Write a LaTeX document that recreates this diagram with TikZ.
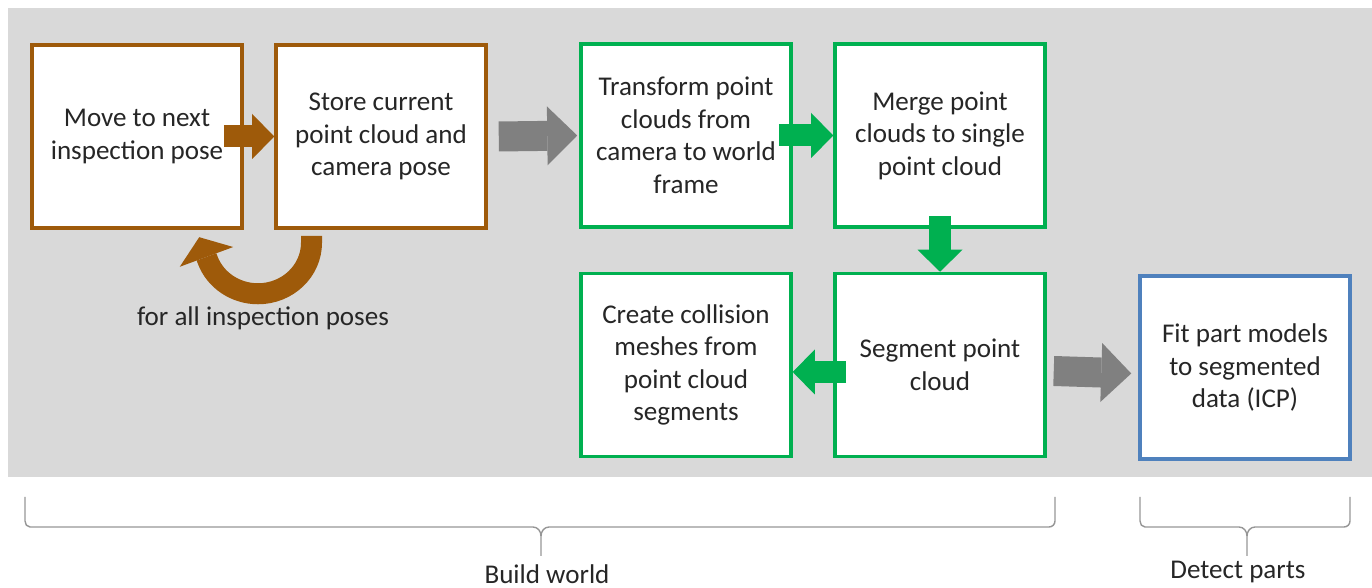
\documentclass[tikz,border=0pt]{standalone}
\usepackage{fontspec}
\setmainfont{Carlito}
\usetikzlibrary{arrows.meta, calc}
\definecolor{bgc}{RGB}{217,217,217}
\definecolor{brn}{RGB}{158,90,10}
\definecolor{grn}{RGB}{0,176,80}
\definecolor{blu}{RGB}{79,129,189}
\definecolor{arrgray}{RGB}{128,128,128}
\definecolor{brcgray}{RGB}{150,150,150}
\definecolor{txt}{RGB}{38,38,38}
\newcommand{\bfnt}{\fontsize{15.4pt}{18.5pt}\selectfont}
\tikzset{
  box/.style={draw, line width=2pt, fill=white, minimum width=4.2cm, minimum height=3.66cm, inner sep=0pt, align=center, font=\bfnt, text=txt},
  brbox/.style={box, draw=brn},
  grbox/.style={box, draw=grn},
  blbox/.style={box, draw=blu},
  sarr/.style={line width=0.44cm, -{Triangle[length=0.44cm, width=0.90cm, line width=0pt]}},
  garr/.style={arrgray, line width=0.60cm, -{Triangle[length=0.60cm, width=1.18cm, line width=0pt]}},
  carr/.style={line width=0.42cm, -{Triangle[length=0.42cm, width=1.14cm, line width=0pt]}},
  brc/.style={draw=brcgray, line width=0.8pt},
  lbl/.style={font=\bfnt, text=txt, inner sep=0pt}
}
\begin{document}
\begin{tikzpicture}
	\useasboundingbox (0,0) rectangle (27.44,-11.76);
	\fill[bgc] (0.16,-0.16) rectangle (27.44,-9.54);
	% build world: capture the clouds, then process them
	\node[brbox] (move) at (2.74,-2.73) {Move to next\\inspection pose};
	\node[brbox] (store) at (7.62,-2.73) {Store current\\point cloud and\\camera pose};
	\node[grbox] (transform) at (13.72,-2.71) {Transform point\\clouds from\\camera to world\\frame};
	\node[grbox] (merge) at (18.80,-2.71) {Merge point\\clouds to single\\point cloud};
	\node[grbox] (segment) at (18.80,-7.30) {Segment point\\cloud};
	\node[grbox] (create) at (13.72,-7.30) {Create collision\\meshes from\\point cloud\\segments};
	% detect parts
	\node[blbox] (fit) at (24.90,-7.35) {Fit part models\\to segmented\\data (ICP)};
	\draw[sarr, brn] ([xshift=-0.40cm]move.east) -- (store.west);
	\draw[garr] ([xshift=0.22cm]store.east) -- ([xshift=-0.04cm]transform.west);
	\draw[sarr, grn] ([xshift=-0.28cm]transform.east) -- (merge.west);
	\draw[sarr, grn] ([yshift=0.26cm]merge.south) -- (segment.north);
	\draw[sarr, grn] ([xshift=0.26cm, yshift=-0.14cm]segment.west) -- ([yshift=-0.14cm]create.east);
	\draw[garr] ([xshift=0.14cm, yshift=-0.12cm]segment.east) -- ([xshift=-0.14cm, yshift=-0.12cm]fit.west);
	% loop back for every pose
	\draw[carr, brn] ([xshift=-1.39cm, yshift=-0.12cm]store.south) -- ++(0,-0.14) arc[start angle=0, end angle=-160, x radius=1.07cm, y radius=1.02cm] -- ++(-0.17,0.46);
	\node[lbl] (poses) at (5.26,-6.36) {for all inspection poses};
	% braces
	\draw[brc] (0.50,-9.94) -- (0.50,-10.42) to[out=-90,in=180] (0.60,-10.54) -- (10.66,-10.54) to[out=0,in=90] (10.82,-10.72) -- (10.82,-11.12);
	\draw[brc] (10.82,-10.72) to[out=90,in=180] (10.98,-10.54) -- (20.98,-10.54) to[out=0,in=-90] (21.10,-10.42) -- (21.10,-9.94);
	\draw[brc] (22.80,-9.94) -- (22.80,-10.42) to[out=-90,in=180] (22.90,-10.54) -- (24.78,-10.54) to[out=0,in=90] (24.94,-10.72) -- (24.94,-11.12);
	\draw[brc] (24.94,-10.72) to[out=90,in=180] (25.10,-10.54) -- (26.88,-10.54) to[out=0,in=-90] (27.00,-10.42) -- (27.00,-9.94);
	\node[lbl] (build) at (10.94,-11.49) {Build world};
	\node[lbl] (detect) at (24.76,-11.44) {Detect parts};
\end{tikzpicture}
\end{document}
